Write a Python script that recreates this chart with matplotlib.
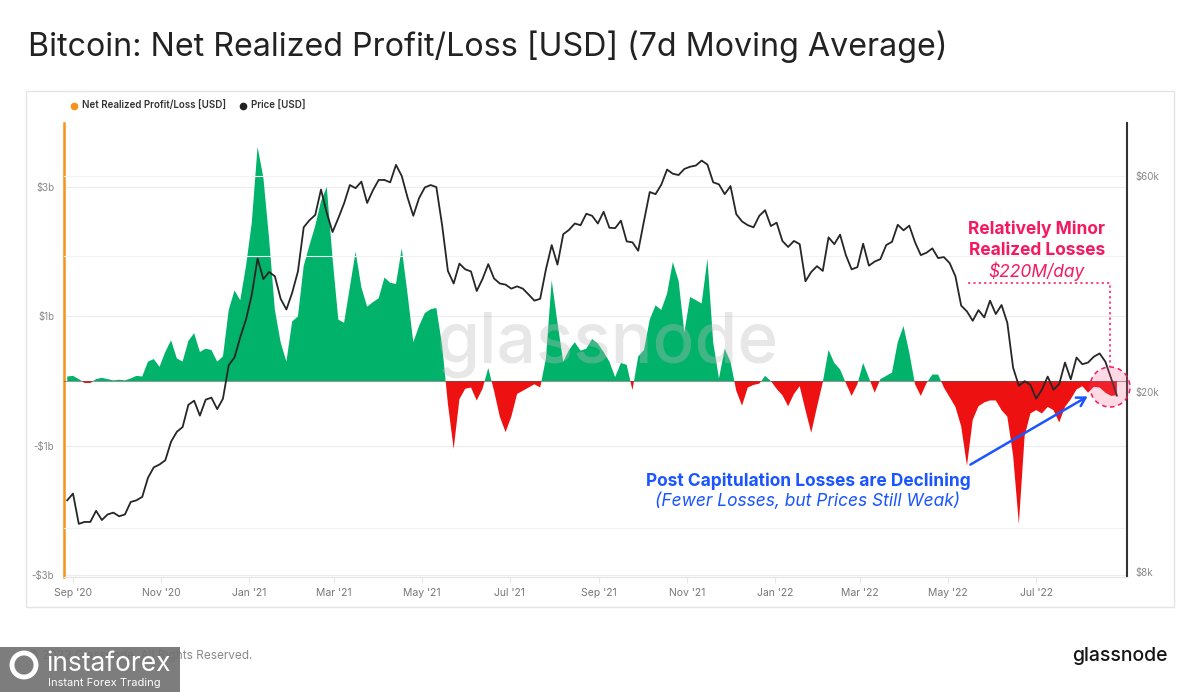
import matplotlib
matplotlib.use("Agg")
import matplotlib.pyplot as plt
import matplotlib.dates as mdates
from matplotlib.patches import Rectangle, Ellipse, FancyArrowPatch
from matplotlib.lines import Line2D
from datetime import date, timedelta
import numpy as np

# ---------------- data (4-day sampling starting 2020-08-28) ----------------
start_date = date(2020, 8, 28)
step_days = 4

price_k = [
    11.5, 11.9, 10.2, 10.3, 10.3, 10.9, 10.4, 10.7, 10.8, 10.6,
    10.7, 11.4, 11.5, 11.7, 12.9, 13.6, 13.8, 14.1, 15.5, 16.3,
    16.7, 18.7, 19.1, 17.7, 19.2, 19.4, 18.3, 19.3, 22.9, 23.8,
    26.4, 28.9, 32.8, 39.4, 35.5, 36.8, 36.0, 32.1, 30.4, 33.1,
    36.9, 46.2, 47.9, 49.2, 56.0, 49.7, 45.1, 48.4, 52.2, 57.3,
    56.4, 58.3, 52.3, 55.8, 58.8, 58.8, 58.1, 63.5, 60.0, 53.8,
    49.0, 53.6, 56.6, 57.3, 56.7, 46.7, 37.0, 34.7, 38.4, 37.3,
    36.9, 33.4, 35.5, 38.3, 35.6, 34.7, 34.5, 33.8, 34.2, 33.8,
    32.8, 31.8, 32.1, 37.3, 42.2, 38.2, 44.6, 45.6, 47.1, 46.7,
    49.5, 49.0, 47.1, 50.0, 46.1, 46.0, 47.8, 43.0, 42.8, 41.0,
    47.7, 55.3, 54.7, 57.4, 62.0, 60.7, 60.3, 62.2, 62.9, 63.3,
    64.9, 63.6, 58.1, 57.5, 54.7, 57.0, 49.4, 47.6, 46.7, 46.2,
    49.0, 50.4, 46.5, 47.3, 43.1, 41.8, 43.1, 42.4, 35.1, 36.8,
    37.9, 37.0, 43.9, 42.4, 44.5, 40.1, 37.3, 37.7, 42.5, 38.0,
    38.8, 39.3, 42.2, 42.9, 46.8, 45.5, 46.6, 42.8, 40.1, 40.6,
    41.5, 39.5, 39.7, 38.5, 36.0, 31.0, 30.1, 28.7, 30.3, 29.2,
    31.8, 29.7, 31.1, 28.4, 22.6, 20.6, 21.1, 20.7, 19.3, 20.2,
    21.6, 20.2, 20.8, 23.2, 21.3, 23.8, 23.0, 23.2, 23.9, 24.3,
    23.3, 21.4, 19.6,
]

nrpl_b = [
    0.07, 0.08, 0.03, -0.03, -0.03, 0.03, 0.05, 0.03, 0.01, 0.02,
    0.01, 0.04, 0.08, 0.07, 0.30, 0.34, 0.22, 0.45, 0.63, 0.35,
    0.30, 0.62, 0.74, 0.45, 0.50, 0.48, 0.30, 0.38, 1.10, 1.40,
    1.25, 1.78, 2.45, 3.62, 3.15, 2.20, 1.10, 0.60, 0.30, 0.92,
    1.00, 1.78, 2.10, 2.40, 2.78, 3.00, 1.90, 0.95, 0.90, 1.45,
    2.00, 1.45, 1.15, 1.22, 1.28, 1.60, 1.52, 1.50, 2.05, 1.35,
    0.60, 0.85, 1.05, 1.11, 1.13, 0.55, -0.35, -1.05, -0.28, -0.12,
    -0.10, -0.30, -0.12, 0.20, -0.15, -0.55, -0.79, -0.55, -0.20, -0.15,
    -0.10, -0.05, -0.10, 0.35, 1.56, 0.90, 0.30, 0.48, 0.60, 0.47,
    0.50, 0.65, 0.58, 0.45, 0.30, 0.06, 0.28, 0.25, -0.14, 0.38,
    0.48, 0.95, 1.17, 1.10, 1.35, 1.84, 1.55, 0.75, 1.30, 1.25,
    1.20, 1.89, 0.60, 0.04, 0.50, 0.30, -0.15, -0.38, -0.10, -0.06,
    -0.04, 0.08, 0.00, -0.12, -0.22, -0.39, -0.20, -0.08, -0.45, -0.80,
    -0.40, -0.02, 0.48, 0.28, 0.18, -0.03, -0.23, -0.05, 0.28, 0.05,
    -0.18, 0.03, 0.08, 0.13, 0.60, 0.85, 0.44, -0.05, -0.23, -0.03,
    0.10, 0.10, -0.10, -0.25, -0.40, -0.70, -1.31, -0.60, -0.39, -0.33,
    -0.30, -0.30, -0.45, -0.55, -1.15, -2.21, -0.85, -0.50, -0.45, -0.50,
    -0.40, -0.45, -0.64, -0.40, -0.28, -0.13, -0.08, -0.18, -0.09, -0.10,
    -0.18, -0.23, -0.22,
]

tick_dates = [date(2020, 9, 1), date(2020, 11, 1), date(2021, 1, 1), date(2021, 3, 1),
              date(2021, 5, 1), date(2021, 7, 1), date(2021, 9, 1), date(2021, 11, 1),
              date(2022, 1, 1), date(2022, 3, 1), date(2022, 5, 1), date(2022, 7, 1)]
tick_labels = ["Sep '20", "Nov '20", "Jan '21", "Mar '21", "May '21", "Jul '21",
               "Sep '21", "Nov '21", "Jan '22", "Mar '22", "May '22", "Jul '22"]
left_ticks_b = [3, 1, -1, -3]
left_tick_labels = ["$3b", "$1b", "-$1b", "-$3b"]
right_ticks_k = [60, 20, 8]
right_tick_labels = ["$60k", "$20k", "$8k"]

# ---------------- style ----------------
GREEN = "#00b26a"
RED = "#ee1111"
ORANGE = "#f7931a"
PINK = "#f5195f"
BLUE = "#1a55ff"
plt.rcParams['font.family'] = ['Inter', 'DejaVu Sans']

W, H = 1200, 692
fig = plt.figure(figsize=(W / 100, H / 100), dpi=100)
fig.patch.set_facecolor("white")


def px(x, y):
    return (x / W, 1 - y / H)


# panel border
fig.patches.append(Rectangle(px(26, 607), (1174 - 26) / W, (607 - 91) / H,
                             transform=fig.transFigure, facecolor="none",
                             edgecolor="#e4e4e4", lw=1.0, zorder=-5))

# title
fig.text(*px(28, 47), "Bitcoin: Net Realized Profit/Loss [USD] (7d Moving Average)",
         fontsize=23.2, color="#222222", ha="left", va="center")

# legend
fig.add_artist(Line2D([74 / W], [1 - 106 / H], marker="o", color=ORANGE, markersize=4.5,
                      transform=fig.transFigure, linestyle="none"))
fig.text(*px(82, 106), "Net Realized Profit/Loss [USD]", fontsize=7, fontweight="semibold",
         color="#333333", ha="left", va="center")
fig.add_artist(Line2D([243 / W], [1 - 106 / H], marker="o", color="#222222", markersize=4.5,
                      transform=fig.transFigure, linestyle="none"))
fig.text(*px(251, 106), "Price [USD]", fontsize=7, fontweight="semibold",
         color="#333333", ha="left", va="center")

# axes
L, R, T, B = 64, 1127, 123, 577
ax = fig.add_axes([L / W, 1 - B / H, (R - L) / W, (B - T) / H])
ax.set_facecolor("none")
ax2 = ax.twinx()

dates = [start_date + timedelta(days=step_days * i) for i in range(len(price_k))]
xd = mdates.date2num(dates)
nr = np.array(nrpl_b) * 1e9
pr = np.array(price_k) * 1e3

ax.fill_between(xd, 0, nr, where=nr >= 0, interpolate=True,
                color=GREEN, lw=0, zorder=2)
ax.fill_between(xd, 0, nr, where=nr <= 0, interpolate=True,
                color=RED, lw=0, zorder=2)
ax.axhline(0, color="#555555", lw=0.8, zorder=3, alpha=0.6)

ax2.plot(xd, pr, color="#262626", lw=1.3, zorder=4)
ax2.set_yscale("log")
ax2.set_ylim(7780, 78600)
ax.set_ylim(-3.03e9, 3.99e9)
ax.set_xlim(mdates.date2num(date(2020, 8, 25)) + 0.75, mdates.date2num(date(2022, 9, 2)))

# grids
for v in left_ticks_b:
    ax.axhline(v * 1e9, color="#ececec", lw=0.8, zorder=0)
for v in [60000, 40000, 10000]:
    ax2.axhline(v, color="#f2f2f2", lw=0.8, zorder=0)

ax.set_yticks([v * 1e9 for v in left_ticks_b])
ax.set_yticklabels(left_tick_labels)
ax2.set_yticks([v * 1e3 for v in right_ticks_k])
ax2.set_yticklabels(right_tick_labels)
ax2.yaxis.set_minor_locator(matplotlib.ticker.NullLocator())
ax2.yaxis.set_minor_formatter(matplotlib.ticker.NullFormatter())
ax.set_xticks(mdates.date2num(tick_dates))
ax.set_xticklabels(tick_labels)

ax.tick_params(axis="y", length=0, pad=7, labelsize=7, labelcolor="#888888")
ax2.tick_params(axis="y", length=0, pad=6, labelsize=7, labelcolor="#888888")
ax.tick_params(axis="x", length=4, color="#e6e6e6", pad=4, labelsize=7.5, labelcolor="#777777")

for a in (ax, ax2):
    a.spines["top"].set_visible(False)
    a.spines["bottom"].set_color("#e6e6e6")
ax.spines["left"].set_color(ORANGE)
ax.spines["left"].set_linewidth(1.8)
ax.spines["right"].set_visible(False)
ax2.spines["left"].set_visible(False)
ax2.spines["right"].set_color("#333333")
ax2.spines["right"].set_linewidth(1.5)

# watermark
fig.text(*px(608, 345), "glassnode", fontsize=50, color="#bbbbbb", alpha=0.35,
         ha="center", va="center", fontweight="medium", zorder=10)

# annotations
fig.text(*px(1037, 229), "Relatively Minor", fontsize=12.5, fontweight="bold",
         color=PINK, ha="center", va="center", zorder=12)
fig.text(*px(1037, 250), "Realized Losses", fontsize=12.5, fontweight="bold",
         color=PINK, ha="center", va="center", zorder=12)
fig.text(*px(1037, 271), "$220M/day", fontsize=12.5, fontstyle="italic",
         color=PINK, ha="center", va="center", zorder=12)
fig.add_artist(Line2D([968 / W, 1110 / W, 1110 / W], [1 - 283 / H, 1 - 283 / H, 1 - 367 / H],
                      transform=fig.transFigure, color=PINK, lw=1.1, linestyle=(0, (1.5, 2)),
                      zorder=12))
fig.add_artist(Ellipse(px(1110, 387), 40 / W, 40 / H, transform=fig.transFigure,
                       facecolor=(1.0, 0.35, 0.55, 0.22), edgecolor=PINK, lw=1.1,
                       linestyle=(0, (3, 2.5)), zorder=12))

fig.text(*px(808, 481), "Post Capitulation Losses are Declining", fontsize=12.5,
         fontweight="bold", color=BLUE, ha="center", va="center", zorder=12)
fig.text(*px(808, 501), "(Fewer Losses, but Prices Still Weak)", fontsize=12.5,
         fontstyle="italic", color=BLUE, ha="center", va="center", zorder=12)
fig.add_artist(FancyArrowPatch(px(968, 466), px(1090, 395), transform=fig.transFigure,
                               arrowstyle="->,head_length=6,head_width=3.5", color=BLUE,
                               lw=1.8, zorder=12))

# footer
fig.text(*px(28, 656), "\u00a9 2022 Glassnode. All Rights Reserved.", fontsize=8.5,
         color="#8a8a8a", ha="left", va="center")
fig.text(*px(1168, 656), "glassnode", fontsize=14, fontweight="medium",
         color="#151515", ha="right", va="center")

# instaforex overlay
fig.patches.append(Rectangle(px(0, 692), 180 / W, 45 / H, transform=fig.transFigure,
                             facecolor="#6f6f6f", alpha=0.9, edgecolor="none", zorder=20))
fig.add_artist(Ellipse(px(24, 665), 24 / W, 24 / H, transform=fig.transFigure,
                       facecolor="none", edgecolor="white", lw=3.5, zorder=21))
fig.text(*px(46, 664), "instaforex", fontsize=19, color="white", ha="left", va="center",
         zorder=21)
fig.text(*px(48, 683), "Instant Forex Trading", fontsize=8, color="white", ha="left",
         va="center", zorder=21)

fig.savefig("out.png", dpi=100, facecolor="white")
